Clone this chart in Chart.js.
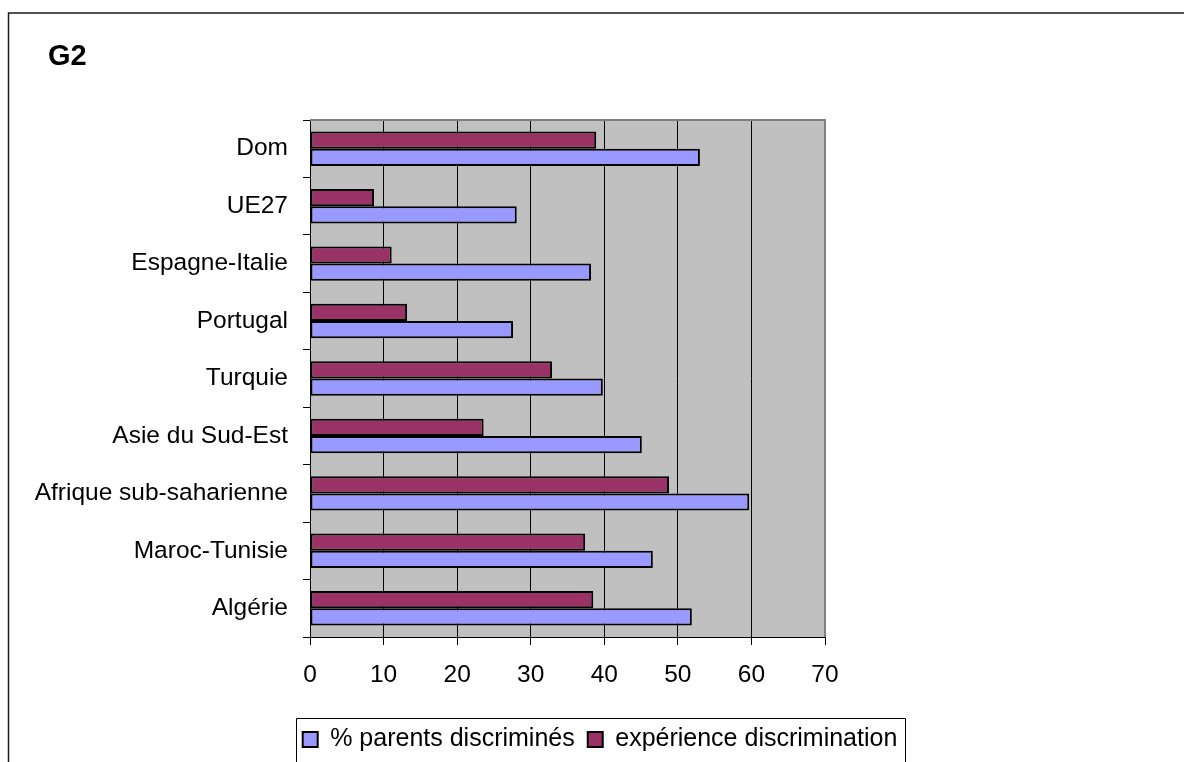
<!DOCTYPE html>
<html>
<head>
<meta charset="utf-8">
<script src="https://cdn.jsdelivr.net/npm/chart.js@4/dist/chart.umd.min.js"></script>
<style>
  html, body { margin: 0; padding: 0; background: #fff; overflow: hidden; }
  #wrap { position: absolute; left: 0; top: 0; width: 1184px; height: 762px; }
</style>
</head>
<body>
<div id="wrap"><canvas id="c" width="1184" height="762"></canvas></div>
<script>
const categories = ['Dom', 'UE27', 'Espagne-Italie', 'Portugal', 'Turquie', 'Asie du Sud-Est', 'Afrique sub-saharienne', 'Maroc-Tunisie', 'Algérie'];
const parentsDiscrimines = [53.0, 28.1, 38.2, 27.6, 39.8, 45.1, 59.7, 46.6, 51.9];
const experienceDiscrimination = [38.9, 8.7, 11.1, 13.2, 32.9, 23.6, 48.8, 37.4, 38.5];
const xTicks = [0, 10, 20, 30, 40, 50, 60, 70];
const titleText = 'G2';

const FONT = "'Liberation Sans', Arial, sans-serif";
Chart.defaults.font.family = FONT;
Chart.defaults.color = '#000';

const decor = {
  id: 'decor',
  afterLayout(chart) {
    const lg = chart.legend;
    if (lg) { lg.left = 16; lg.right = 1184; lg.width = 1168; }
    const t = chart.titleBlock;
    if (t) { t.left = 48; t.right = 600; t.width = 552; }
  },
  beforeDraw(chart) {
    const ctx = chart.ctx, a = chart.chartArea;
    ctx.save();
    ctx.fillStyle = '#fff';
    ctx.fillRect(0, 0, chart.width, chart.height);
    ctx.fillStyle = '#c0c0c0';
    ctx.fillRect(a.left, a.top, a.right - a.left, a.bottom - a.top);
    ctx.restore();
  },
  afterDraw(chart) {
    const ctx = chart.ctx, a = chart.chartArea;
    ctx.save();
    ctx.strokeStyle = '#808080';
    ctx.lineWidth = 2;
    ctx.beginPath();
    ctx.moveTo(a.left, a.top);
    ctx.lineTo(a.right, a.top);
    ctx.lineTo(a.right, a.bottom);
    ctx.stroke();
    ctx.strokeStyle = '#1a1a1a';
    ctx.lineWidth = 1.5;
    ctx.beginPath();
    ctx.moveTo(8.5, 800);
    ctx.lineTo(8.5, 13);
    ctx.lineTo(1184, 13);
    ctx.stroke();
    const lg = chart.legend;
    if (lg && lg.legendHitBoxes && lg.legendHitBoxes.length) {
      const hb = lg.legendHitBoxes;
      const l = hb[0].left - 7;
      const last = hb[hb.length - 1];
      const r = last.left + last.width + 8;
      ctx.strokeStyle = '#000';
      ctx.lineWidth = 1;
      ctx.beginPath();
      ctx.moveTo(Math.round(l) + 0.5, 800);
      ctx.lineTo(Math.round(l) + 0.5, Math.round(lg.top + 4) + 0.5);
      ctx.lineTo(Math.round(r) + 0.5, Math.round(lg.top + 4) + 0.5);
      ctx.lineTo(Math.round(r) + 0.5, 800);
      ctx.stroke();
    }
    ctx.restore();
  }
};

new Chart(document.getElementById('c'), {
  type: 'bar',
  data: {
    labels: categories,
    datasets: [
      {
        label: 'expérience discrimination',
        data: experienceDiscrimination,
        backgroundColor: '#993366',
        borderColor: '#000',
        borderWidth: 2,
        borderSkipped: false,
        categoryPercentage: 0.6,
        barPercentage: 1.0
      },
      {
        label: '% parents discriminés',
        data: parentsDiscrimines,
        backgroundColor: '#9999ff',
        borderColor: '#000',
        borderWidth: 2,
        borderSkipped: false,
        categoryPercentage: 0.6,
        barPercentage: 1.0
      }
    ]
  },
  options: {
    indexAxis: 'y',
    responsive: false,
    animation: false,
    devicePixelRatio: 1,
    layout: { padding: { left: 16, right: 359, top: 0, bottom: 0 } },
    plugins: {
      tooltip: { enabled: false },
      title: {
        display: true,
        text: titleText,
        align: 'start',
        color: '#000',
        font: { size: 29, weight: 'bold', family: FONT, lineHeight: 1.2 },
        padding: { top: 40, bottom: 45.2 }
      },
      legend: {
        display: true,
        position: 'bottom',
        align: 'center',
        reverse: true,
        labels: {
          boxWidth: 15,
          boxHeight: 15,
          padding: 13,
          color: '#000',
          font: { size: 25, family: FONT }
        }
      }
    },
    scales: {
      x: {
        type: 'linear',
        position: 'bottom',
        min: 0,
        max: 70,
        afterBuildTicks(scale) { scale.ticks = xTicks.map(v => ({ value: v })); },
        afterFit(scale) { scale.height = 77; },
        ticks: { padding: 16, font: { size: 24.5, family: FONT }, color: '#000' },
        grid: {
          display: true,
          drawOnChartArea: true,
          drawTicks: true,
          tickLength: 8,
          tickColor: '#000',
          color: (c) => (c.tick && c.tick.value === 70 ? '#808080' : '#000'),
          lineWidth: 1
        },
        border: { display: true, color: '#000', width: 1 }
      },
      y: {
        type: 'category',
        afterFit(scale) { scale.width = 294; },
        ticks: { padding: 15, font: { size: 24.5, family: FONT }, color: '#000' },
        grid: {
          display: true,
          offset: true,
          drawOnChartArea: false,
          drawTicks: true,
          tickLength: 7,
          tickColor: '#000'
        },
        border: { display: true, color: '#000', width: 1 }
      }
    }
  },
  plugins: [decor]
});
</script>
</body>
</html>
